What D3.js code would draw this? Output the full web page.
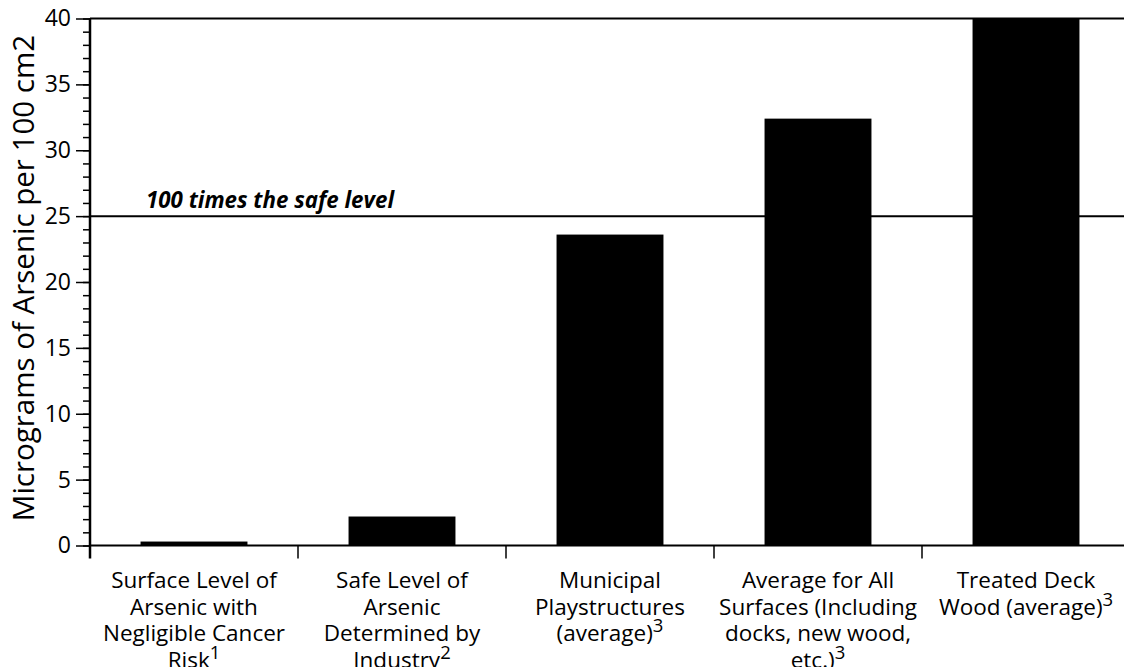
<!DOCTYPE html>
<html>
<head>
<meta charset="utf-8">
<script src="https://cdn.jsdelivr.net/npm/d3@7"></script>
<style>
  body { margin: 0; background: #fff; }
  svg { display: block; }
  text { font-family: 'Open Sans', 'Noto Sans', sans-serif; fill: #000; }
</style>
</head>
<body>
<div id="chart"></div>
<script>
// Data
var categories = ['surface', 'safe', 'municipal', 'average', 'deck']
var values = [0.3, 2.2, 23.6, 32.4, 40]
// label lines; the note number is set as superscript after the last line
var labelLines = [
  ['Surface Level of', 'Arsenic with', 'Negligible Cancer', 'Risk'],
  ['Safe Level of', 'Arsenic', 'Determined by', 'Industry'],
  ['Municipal', 'Playstructures', '(average)'],
  ['Average for All', 'Surfaces (Including', 'docks, new wood,', 'etc.)'],
  ['Treated Deck', 'Wood (average)']
]
var labelNotes = ['1', '2', '3', '3', '3']
var yTicks = [0, 5, 10, 15, 20, 25, 30, 35, 40]
var safeLine = 25
var safeLabel = '100 times the safe level'
var yTitle = 'Micrograms of Arsenic per 100 cm2'

// Settings
var settings = {}
settings.width = 1124
settings.height = 667
settings.left = 90
settings.right = 1130
settings.top = 18.5
settings.bottom = 545.5

var svg = d3.select('#chart').append('svg')
  .attr('width', settings.width)
  .attr('height', settings.height)

var x = d3.scaleBand()
  .domain(categories)
  .range([settings.left, settings.right])
  .paddingInner(0.486)
  .paddingOuter(0.243)

var y = d3.scaleLinear()
  .domain([0, 40])
  .range([settings.bottom, settings.top])

// Bars (clipped at the top of the plot)
svg.append('g').selectAll('rect')
  .data(categories)
  .join('rect')
  .attr('x', function(d) { return x(d) })
  .attr('width', x.bandwidth())
  .attr('y', function(d, i) { return y(Math.min(values[i], 40)) })
  .attr('height', function(d, i) { return y(0) - y(Math.min(values[i], 40)) })
  .attr('fill', '#000')

// Top frame line
svg.append('line')
  .attr('x1', settings.left).attr('x2', settings.width)
  .attr('y1', y(40)).attr('y2', y(40))
  .attr('stroke', '#000').attr('stroke-width', 2)

// Reference line
svg.append('line')
  .attr('x1', settings.left).attr('x2', settings.width)
  .attr('y1', y(safeLine)).attr('y2', y(safeLine))
  .attr('stroke', '#000').attr('stroke-width', 2)

svg.append('text')
  .attr('x', 146)
  .attr('y', y(safeLine) - 8)
  .attr('font-size', 22.3)
  .attr('font-weight', 'bold')
  .attr('font-style', 'italic')
  .text(safeLabel)

// Y axis: minor ticks every 1, major every 5
var yAxisMinor = d3.axisLeft(y)
  .tickValues(d3.range(0, 41, 1))
  .tickSize(7)
  .tickFormat('')
var gMinor = svg.append('g')
  .attr('transform', 'translate(' + settings.left + ',0)')
  .call(yAxisMinor)
gMinor.select('.domain').remove()
gMinor.selectAll('line').attr('stroke-width', 1.5)

var yAxis = d3.axisLeft(y)
  .tickValues(yTicks)
  .tickSize(14)
  .tickPadding(5)
var gy = svg.append('g')
  .attr('transform', 'translate(' + settings.left + ',0)')
  .call(yAxis)
gy.select('.domain').remove()
gy.selectAll('line').attr('stroke-width', 1.5)
gy.selectAll('text')
  .attr('font-size', 23)
  .attr('font-family', "'Open Sans', sans-serif")

// X axis line and band boundary ticks
svg.append('line')
  .attr('x1', settings.left).attr('x2', settings.width)
  .attr('y1', y(0)).attr('y2', y(0))
  .attr('stroke', '#000').attr('stroke-width', 2)

svg.append('line')
  .attr('x1', settings.left).attr('x2', settings.left)
  .attr('y1', y(40)).attr('y2', y(0) + 13)
  .attr('stroke', '#000').attr('stroke-width', 2.5)

var step = x.step()
svg.append('g').selectAll('line')
  .data(categories.slice(1))
  .join('line')
  .attr('x1', function(d) { return x(d) - step * x.paddingInner() / 2 })
  .attr('x2', function(d) { return x(d) - step * x.paddingInner() / 2 })
  .attr('y1', y(0))
  .attr('y2', y(0) + 13)
  .attr('stroke', '#000')
  .attr('stroke-width', 1.5)

// X labels
var lineHeight = 26.6
categories.forEach(function(c, i) {
  var cx = x(c) + x.bandwidth() / 2
  var lines = labelLines[i]
  lines.forEach(function(l, j) {
    var t = svg.append('text')
      .attr('x', cx)
      .attr('y', 588 + j * lineHeight)
      .attr('text-anchor', 'middle')
      .attr('font-size', 22.5)
    t.append('tspan').text(l)
    if (j === lines.length - 1) {
      t.append('tspan')
        .attr('dy', -9)
        .attr('font-size', 18.5)
        .text(labelNotes[i])
    }
  })
})

// Y title
svg.append('text')
  .attr('transform', 'translate(34,278) rotate(-90)')
  .attr('text-anchor', 'middle')
  .attr('font-size', 29.5)
  .text(yTitle)
</script>
</body>
</html>
